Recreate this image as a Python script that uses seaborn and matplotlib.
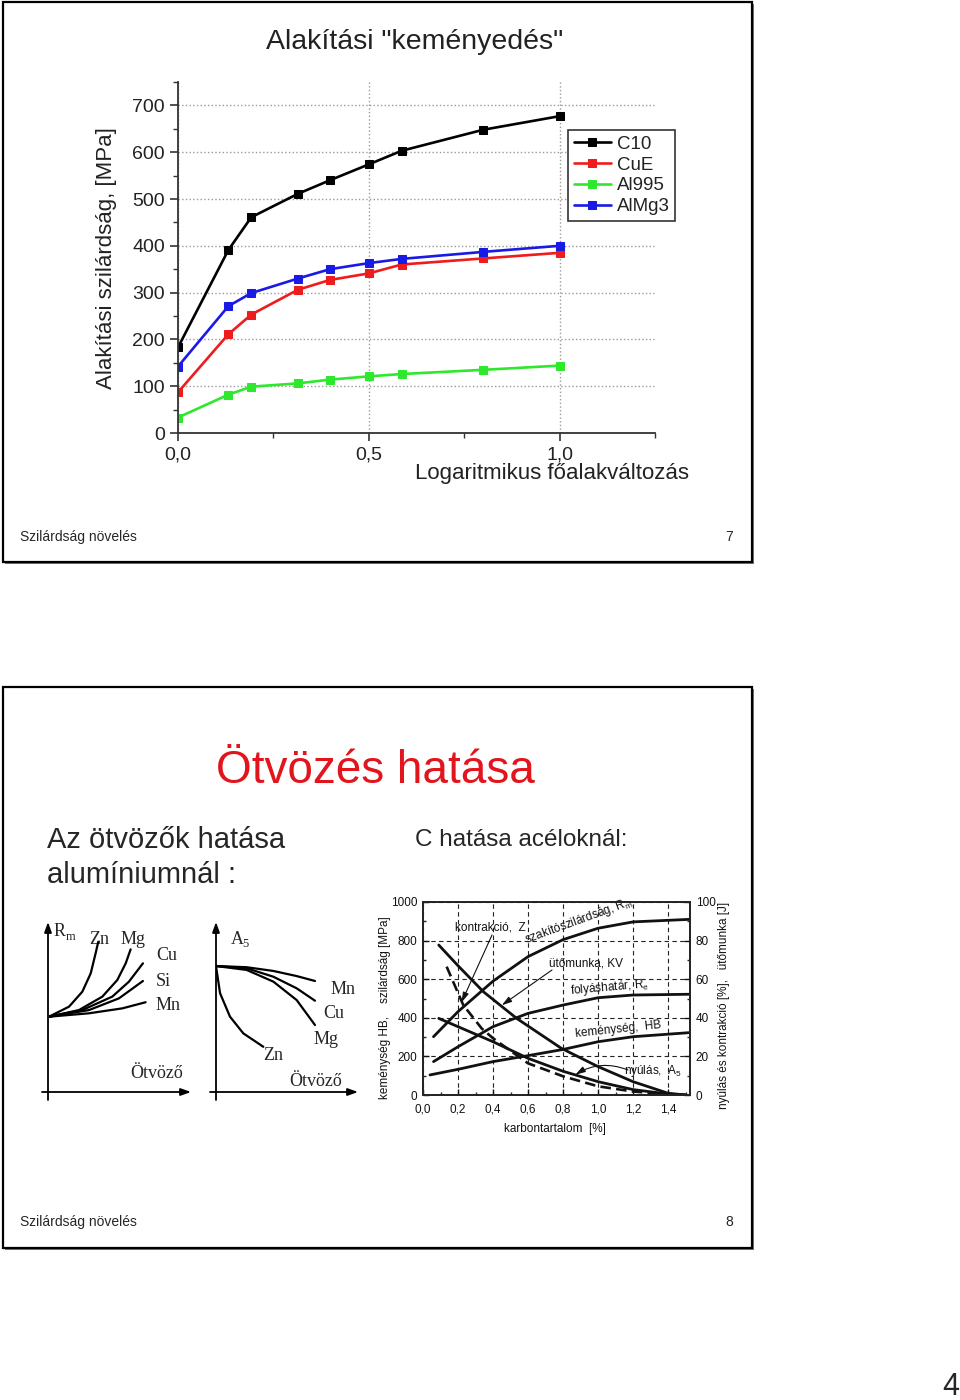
import matplotlib
matplotlib.use("Agg")
import matplotlib.pyplot as plt
import seaborn as sns
from matplotlib import font_manager as fm
from matplotlib.patches import Rectangle
from matplotlib.ticker import MultipleLocator

# ---------------- data: slide 7 (Alakítási "keményedés") ----------------
strain = [0.0, 0.132, 0.192, 0.314, 0.398, 0.5, 0.586, 0.80, 1.0]
c10 = [183, 391, 461, 511, 540, 574, 603, 648, 677]
cue = [87, 211, 253, 306, 327, 341, 360, 373, 385]
al995 = [33, 82, 99, 106, 114, 121, 126, 135, 144]
almg3 = [142, 271, 299, 330, 350, 363, 372, 387, 400]
materials = ["C10", "CuE", "Al995", "AlMg3"]
material_colors = ["#000000", "#ee1c1c", "#2ee82e", "#1a1ae6"]
stress_ticks = [0, 100, 200, 300, 400, 500, 600, 700]
strain_ticks = [0.0, 0.5, 1.0]
strain_ticklabels = ["0,0", "0,5", "1,0"]

# ---------------- data: slide 8 left (schematic, normalised units) ----------------
rm_zn_x = [0, 0.143, 0.238, 0.298, 0.333, 0.352]
rm_zn_y = [0.443, 0.502, 0.59, 0.698, 0.816, 0.884]
rm_mg_x = [0, 0.214, 0.381, 0.488, 0.548, 0.583]
rm_mg_y = [0.443, 0.482, 0.561, 0.659, 0.757, 0.839]
rm_cu_x = [0, 0.238, 0.452, 0.571, 0.671]
rm_cu_y = [0.443, 0.482, 0.561, 0.649, 0.757]
rm_si_x = [0, 0.286, 0.5, 0.671]
rm_si_y = [0.443, 0.482, 0.551, 0.653]
rm_mn_x = [0, 0.286, 0.524, 0.69]
rm_mn_y = [0.443, 0.463, 0.492, 0.528]

a5_mn_x = [0, 0.219, 0.41, 0.576, 0.707]
a5_mn_y = [0.741, 0.734, 0.712, 0.682, 0.653]
a5_cu_x = [0, 0.219, 0.41, 0.576, 0.707]
a5_cu_y = [0.741, 0.728, 0.678, 0.61, 0.537]
a5_mg_x = [0, 0.219, 0.41, 0.576, 0.707]
a5_mg_y = [0.741, 0.718, 0.649, 0.541, 0.394]
a5_zn_x = [0, 0.029, 0.1, 0.195, 0.338]
a5_zn_y = [0.741, 0.581, 0.443, 0.345, 0.266]

# ---------------- data: slide 8 right (C hatása acéloknál) ----------------
c_rm_x = [0.06, 0.2, 0.4, 0.6, 0.8, 1.0, 1.2, 1.52]
c_rm_y = [302, 432, 590, 717, 805, 864, 897, 910]
c_re_x = [0.06, 0.2, 0.4, 0.6, 0.8, 1.0, 1.2, 1.52]
c_re_y = [173, 250, 354, 423, 466, 504, 518, 522]
c_hb_x = [0.04, 0.2, 0.4, 0.6, 0.8, 1.0, 1.2, 1.52]
c_hb_y = [104, 133, 173, 204, 236, 276, 302, 323]
c_kv_x = [0.09, 0.2, 0.345, 0.535, 0.79, 1.0, 1.2, 1.4, 1.5]
c_kv_y = [77.7, 67.0, 53.5, 39.7, 24.2, 14.7, 6.9, 0.9, 0.0]
c_z_x = [0.135, 0.23, 0.335, 0.4, 0.6, 0.8, 1.0, 1.2, 1.4, 1.5]
c_z_y = [66.5, 46.6, 34.5, 29.4, 16.4, 9.7, 4.5, 1.8, 0.4, 0.0]
c_a5_x = [0.09, 0.2, 0.4, 0.6, 0.8, 1.0, 1.2, 1.4, 1.5]
c_a5_y = [39.7, 35.4, 27.6, 19.0, 12.3, 6.9, 2.8, 0.5, 0.0]
carbon_ticks = [0.0, 0.2, 0.4, 0.6, 0.8, 1.0, 1.2, 1.4]
carbon_ticklabels = ["0,0", "0,2", "0,4", "0,6", "0,8", "1,0", "1,2", "1,4"]
mpa_ticks = [0, 200, 400, 600, 800, 1000]
pct_ticks = [0, 20, 40, 60, 80, 100]

# ---------------- setup ----------------
sns.set_theme(style="white")
avail = {f.name for f in fm.fontManager.ttflist}
SANS = "Liberation Sans" if "Liberation Sans" in avail else "DejaVu Sans"
NARROW = "Liberation Sans Narrow" if "Liberation Sans Narrow" in avail else SANS
SERIF = "Liberation Serif" if "Liberation Serif" in avail else "DejaVu Serif"
plt.rcParams["font.family"] = [SANS, "DejaVu Sans"]

W, H = 960, 1400
fig = plt.figure(figsize=(9.6, 14), dpi=100)
fig.patch.set_facecolor("white")


def rect(x0, y0, x1, y1):
    return [x0 / W, 1 - y1 / H, (x1 - x0) / W, (y1 - y0) / H]


bg = fig.add_axes([0, 0, 1, 1])
bg.set_xlim(0, W)
bg.set_ylim(H, 0)
bg.axis("off")
bg.patch.set_visible(False)

# slide frames
for (x0, y0, x1, y1) in [(3, 2, 752, 562), (3, 687, 752, 1248)]:
    bg.add_patch(Rectangle((x0 + 2, y0 + 2), x1 - x0, y1 - y0, fc="#777777", ec="none"))
    bg.add_patch(Rectangle((x0, y0), x1 - x0, y1 - y0, fc="white", ec="black", lw=1.6))

# ================= slide 7 =================
bg.text(415, 42, 'Alakítási "keményedés"', ha="center", va="center", fontsize=20.5, color="#222222")
bg.text(107, 258, "Alakítási szilárdság, [MPa]", ha="center", va="center", rotation=90,
        fontsize=16, color="#222222")
bg.text(552, 474, "Logaritmikus főalakváltozás", ha="center", va="center", fontsize=16, color="#222222")

ax1 = fig.add_axes(rect(178, 82, 655, 433))
ax1.patch.set_visible(False)
for name, vals, col in zip(materials, [c10, cue, al995, almg3], material_colors):
    sns.lineplot(x=strain, y=vals, ax=ax1, color=col, marker="s", markersize=6,
                 markeredgecolor=col, linewidth=1.9, label=name, sort=False)
ax1.set_xlim(0, 1.25)
ax1.set_ylim(0, 750)
ax1.set_xticks(strain_ticks)
ax1.set_xticklabels(strain_ticklabels)
ax1.set_yticks(stress_ticks)
ax1.xaxis.set_minor_locator(MultipleLocator(0.25))
ax1.yaxis.set_minor_locator(MultipleLocator(50))
ax1.tick_params(which="major", direction="out", length=6, width=1.2, labelsize=14,
                colors="#333333", labelcolor="#222222", bottom=True, left=True)
ax1.tick_params(which="minor", direction="out", length=3.5, width=1.0, colors="#333333",
                bottom=True, left=True)
for s in ["top", "right"]:
    ax1.spines[s].set_visible(False)
for s in ["left", "bottom"]:
    ax1.spines[s].set_color("#333333")
    ax1.spines[s].set_linewidth(1.3)
ax1.grid(True, which="major", ls=":", color="#9a9a9a", lw=1.0)
ax1.set_xlabel("")
ax1.set_ylabel("")
leg = ax1.legend(loc="upper left", bbox_to_anchor=(568 / W, 1 - 130 / H), bbox_transform=fig.transFigure,
                 fontsize=13.5, frameon=True, fancybox=False, framealpha=1, edgecolor="#333333",
                 borderpad=0.3, labelspacing=0.2, handlelength=2.0, handletextpad=0.3,
                 borderaxespad=0)
leg.get_frame().set_linewidth(1.2)
for t in leg.get_texts():
    t.set_color("#222222")

bg.text(20, 537, "Szilárdság növelés", fontsize=10, va="center", family=NARROW)
bg.text(733, 537, "7", fontsize=10, va="center", ha="right", family=NARROW)

# ================= slide 8 =================
bg.text(375, 771, "Ötvözés hatása", ha="center", va="center", fontsize=33, color="#e2141c")
bg.text(47, 840, "Az ötvözők hatása", ha="left", va="center", fontsize=21)
bg.text(47, 875, "alumíniumnál :", ha="left", va="center", fontsize=21)
bg.text(415, 840, "C hatása acéloknál:", ha="left", va="center", fontsize=17.5)

# --- Rm schematic
arrow_kw = dict(arrowstyle="-|>,head_length=0.5,head_width=0.18", lw=1.3, color="black",
                shrinkA=0, shrinkB=0)
bg.annotate("", xy=(48, 922), xytext=(48, 1100), arrowprops=arrow_kw)
bg.annotate("", xy=(191, 1092), xytext=(42, 1092), arrowprops=arrow_kw)
axr = fig.add_axes(rect(49, 922, 189, 1092))
axr.patch.set_visible(False)
for xs, ys in [(rm_zn_x, rm_zn_y), (rm_mg_x, rm_mg_y), (rm_cu_x, rm_cu_y),
               (rm_si_x, rm_si_y), (rm_mn_x, rm_mn_y)]:
    sns.lineplot(x=xs, y=ys, ax=axr, color="black", lw=1.6, sort=False)
axr.set_xlim(0, 1)
axr.set_ylim(0, 1)
axr.axis("off")
sf = dict(family=SERIF, fontsize=13, va="center", ha="left")
bg.text(54, 932, "R", **sf)
bg.text(66, 937, "m", family=SERIF, fontsize=9, va="center", ha="left")
bg.text(89, 940, "Zn", **sf)
bg.text(121, 940, "Mg", **sf)
bg.text(156, 956, "Cu", **sf)
bg.text(156, 981, "Si", **sf)
bg.text(156, 1006, "Mn", **sf)
bg.text(130, 1073, "Ötvöző", **sf)

# --- A5 schematic
bg.annotate("", xy=(216, 922), xytext=(216, 1100), arrowprops=arrow_kw)
bg.annotate("", xy=(358, 1092), xytext=(210, 1092), arrowprops=arrow_kw)
axa = fig.add_axes(rect(216, 922, 356, 1092))
axa.patch.set_visible(False)
for xs, ys in [(a5_mn_x, a5_mn_y), (a5_cu_x, a5_cu_y), (a5_mg_x, a5_mg_y), (a5_zn_x, a5_zn_y)]:
    sns.lineplot(x=xs, y=ys, ax=axa, color="black", lw=1.6, sort=False)
axa.set_xlim(0, 1)
axa.set_ylim(0, 1)
axa.axis("off")
bg.text(231, 940, "A", **sf)
bg.text(242, 944, "5", family=SERIF, fontsize=9, va="center", ha="left")
bg.text(331, 989, "Mn", **sf)
bg.text(323, 1014, "Cu", **sf)
bg.text(314, 1040, "Mg", **sf)
bg.text(263, 1056, "Zn", **sf)
bg.text(289, 1082, "Ötvöző", **sf)

# --- steel chart
axs = fig.add_axes(rect(423, 902, 690, 1095))
axs.patch.set_visible(False)
for xs, ys in [(c_rm_x, c_rm_y), (c_re_x, c_re_y), (c_hb_x, c_hb_y)]:
    sns.lineplot(x=xs, y=ys, ax=axs, color="#111111", lw=2.0, sort=False)
axs.set_xlim(0, 1.525)
axs.set_ylim(0, 1000)
axs.set_xticks(carbon_ticks)
axs.set_xticklabels(carbon_ticklabels)
axs.set_yticks(mpa_ticks)
axs.xaxis.set_minor_locator(MultipleLocator(0.1))
axs.yaxis.set_minor_locator(MultipleLocator(100))
axs.grid(True, which="major", ls=(0, (4, 3)), color="#222222", lw=0.8)
axs.tick_params(which="major", direction="in", length=4, width=1, labelsize=8.5,
                colors="#111111", bottom=True, left=True)
axs.tick_params(axis="x", which="major", pad=6)
axs.tick_params(axis="y", which="major", pad=4)
axs.tick_params(which="minor", direction="in", length=2.5, width=1, bottom=True, left=True)
for t in axs.get_xticklabels() + axs.get_yticklabels():
    t.set_family(NARROW)
for s in axs.spines.values():
    s.set_visible(True)
    s.set_color("#111111")
    s.set_linewidth(1.3)
axs.set_xlabel("")
axs.set_ylabel("")

axs2 = axs.twinx()
sns.lineplot(x=c_kv_x, y=c_kv_y, ax=axs2, color="#111111", lw=2.0, sort=False)
sns.lineplot(x=c_z_x, y=c_z_y, ax=axs2, color="#111111", lw=1.9, sort=False, linestyle=(0, (4, 2)))
sns.lineplot(x=c_a5_x, y=c_a5_y, ax=axs2, color="#111111", lw=2.0, sort=False)
axs2.set_ylim(0, 100)
axs2.set_yticks(pct_ticks)
axs2.yaxis.set_minor_locator(MultipleLocator(10))
axs2.tick_params(which="major", direction="in", length=4, width=1, labelsize=8.5, pad=4,
                 colors="#111111", right=True)
axs2.tick_params(which="minor", direction="in", length=2.5, width=1, right=True)
for t in axs2.get_yticklabels():
    t.set_family(NARROW)
axs2.set_ylabel("")
axs2.grid(False)

nf = dict(family=NARROW, fontsize=8.5, color="#111111", va="center", ha="center")
bg.text(385, 1008, "keménység HB,    szilárdság [MPa]", rotation=90, **nf)
bg.text(724, 1005, "nyúlás és kontrakció [%],   ütőmunka [J]", rotation=90, **nf)
bg.text(555, 1129, "karbontartalom  [%]", **nf)
bg.text(579, 921, "szakítószilárdság, R$_\\mathregular{m}$", rotation=20, **nf)
bg.text(610, 988, "folyáshatár, R$_\\mathregular{e}$", rotation=5, **nf)
bg.text(618, 1030, "keménység,  HB", rotation=6, **nf)
bg.text(586, 963, "ütőmunka, KV", **nf)
bg.text(490, 928, "kontrakció,  Z", **nf)
bg.text(653, 1071, "nyúlás,  A$_\\mathregular{5}$", **nf)

thin = dict(arrowstyle="-|>,head_length=0.5,head_width=0.15", lw=0.8, color="#111111",
            shrinkA=0, shrinkB=0)
axs2.annotate("", xy=(0.22, 48.0), xycoords="data", xytext=(492, 935), textcoords=bg.transData,
              arrowprops=thin, annotation_clip=False)
axs2.annotate("", xy=(0.45, 46.5), xycoords="data", xytext=(552, 970), textcoords=bg.transData,
              arrowprops=thin, annotation_clip=False)
axs2.annotate("", xy=(0.87, 10.5), xycoords="data", xytext=(628, 1070), textcoords=bg.transData,
              arrowprops=dict(thin, connectionstyle="arc3,rad=0.25"), annotation_clip=False)

bg.text(20, 1222, "Szilárdság növelés", fontsize=10, va="center", family=NARROW)
bg.text(733, 1222, "8", fontsize=10, va="center", ha="right", family=NARROW)

# page number
bg.text(959, 1387, "4", fontsize=22, va="center", ha="right", family=NARROW)

fig.savefig("out.png", dpi=100, facecolor="white")
